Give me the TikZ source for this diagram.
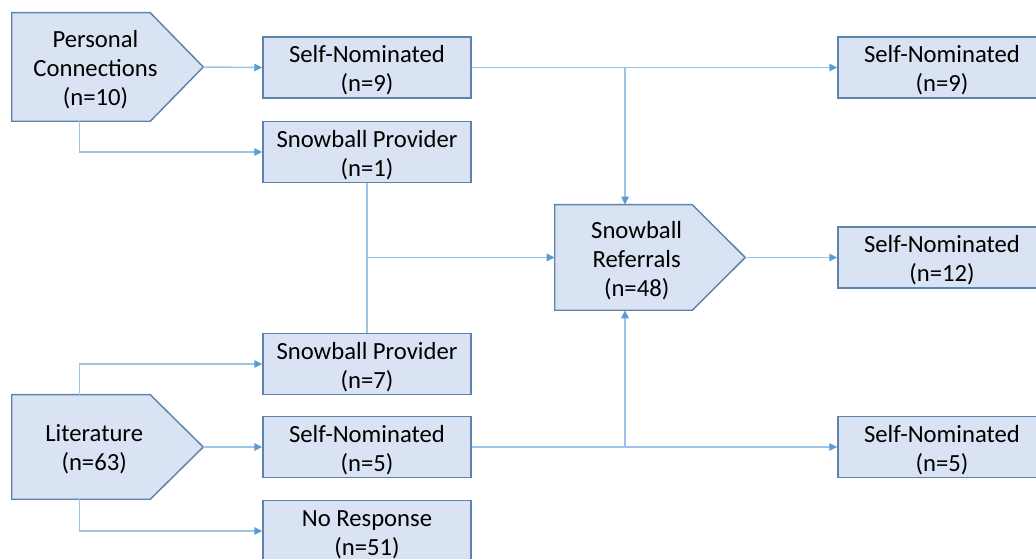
\documentclass[tikz,border=0pt]{standalone}
\usepackage{fontspec}
\setmainfont{Carlito}
\usetikzlibrary{arrows.meta,calc}
\definecolor{boxfill}{HTML}{DAE3F3}
\definecolor{boxdraw}{HTML}{5E84AE}
\definecolor{linec}{HTML}{9DC3E6}
\definecolor{tipc}{HTML}{5B9BD5}
\tikzset{
  txt/.style={font=\fontsize{18.5}{21.8}\selectfont, align=center, inner sep=0pt},
  stagebox/.style={txt, draw=boxdraw, fill=boxfill, line width=1.1pt,
    minimum width=156pt, minimum height=45.75pt},
  pentframe/.style={inner sep=0pt, minimum width=#1},
  pentline/.style={draw=boxdraw, fill=boxfill, line width=1.1pt, line join=miter},
  wire/.style={draw=linec, line width=1.1pt},
  conn/.style={wire, -{Triangle[length=6pt,width=5.5pt,color=tipc]}},
}
\newcommand{\twoline}[2]{\rule{0pt}{17.5pt}#1\\#2}
\newcommand{\pentdraw}[1]{%
  \path[pentline] (#1.north west) -- ([xshift=-39.75pt]#1.north east) -- (#1.east)
    -- ([xshift=-39.75pt]#1.south east) -- (#1.south west) -- cycle;}
\begin{document}
\begin{tikzpicture}[x=0.75pt,y=-0.75pt]
\useasboundingbox (0,0) rectangle (1036,559);
\clip (0,0) rectangle (1036,559);
% pentagon frames
\node[pentframe=143.25pt, minimum height=81pt] (pc) at (107.5,67) {};
\node[pentframe=143.25pt, minimum height=78pt] (lit) at (107.5,447) {};
\node[pentframe=142.5pt, minimum height=78.75pt] (sr) at (650,257.5) {};
\pentdraw{pc}
\pentdraw{lit}
\pentdraw{sr}
\node[txt] (pct) at ($(pc.center)+(-9pt,-2pt)$) {Personal\\Connections\\(n=10)};
\node[txt] (litt) at ($(lit.center)+(-10pt,-2pt)$) {Literature\\(n=63)};
\node[txt] (srt) at ($(sr.center)+(-10pt,-2.5pt)$) {Snowball\\Referrals\\(n=48)};
% boxes
\node[stagebox] (sn9) at (367,67.5) {\twoline{Self-Nominated}{(n=9)}};
\node[stagebox] (sp1) at (367,152) {\twoline{Snowball Provider}{(n=1)}};
\node[stagebox] (sp7) at (367,364) {\twoline{Snowball Provider}{(n=7)}};
\node[stagebox] (sn5) at (367,447) {\twoline{Self-Nominated}{(n=5)}};
\node[stagebox] (nr) at (367,531) {\twoline{No Response}{(n=51)}};
\node[stagebox] (rsn9) at (942,67.5) {\twoline{Self-Nominated}{(n=9)}};
\node[stagebox] (rsn12) at (942,257.5) {\twoline{Self-Nominated}{(n=12)}};
\node[stagebox] (rsn5) at (942,447) {\twoline{Self-Nominated}{(n=5)}};
% helper coordinates
\coordinate (srtop) at ([xshift=-18.75pt]sr.north);
\coordinate (srbot) at ([xshift=-18.75pt]sr.south);
\coordinate (pcb) at ([xshift=51pt]pc.south west);
\coordinate (litn) at ([xshift=51pt]lit.north west);
\coordinate (lits) at ([xshift=51pt]lit.south west);
% connectors
\draw[conn] (pc.east) -- (sn9.west);
\draw[conn] (pcb) |- (sp1.west);
\draw[conn] (sn9.east) -- (rsn9.west);
\draw[conn] (srtop |- sn9.east) -- (srtop);
\draw[wire] (sp1.south) -- (sp7.north);
\draw[conn] (sp1.south |- sr.west) -- (sr.west);
\draw[conn] (litn) |- (sp7.west);
\draw[conn] (lit.east) -- (sn5.west);
\draw[conn] (lits) |- (nr.west);
\draw[conn] (sn5.east) -- (rsn5.west);
\draw[conn] (srbot |- sn5.east) -- (srbot);
\draw[conn] (sr.east) -- (rsn12.west);
\end{tikzpicture}
\end{document}
